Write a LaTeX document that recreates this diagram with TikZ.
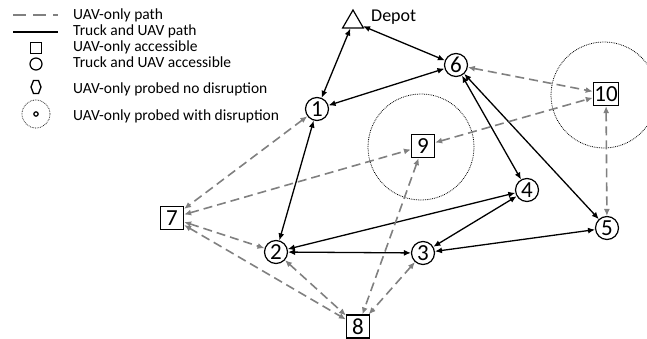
\documentclass[tikz,border=0pt]{standalone}
\usepackage{fontspec}
\setmainfont{Carlito}
\usetikzlibrary{arrows.meta,shapes.geometric}

\begin{document}
\begin{tikzpicture}[x=1pt,y=-1pt,
    stop/.style={draw,circle,minimum size=23pt,inner sep=0pt,line width=1.2pt,font=\fontsize{23}{23}\selectfont},
    drone/.style={draw,rectangle,minimum size=23pt,inner sep=1pt,line width=1.2pt,font=\fontsize{23}{23}\selectfont},
    truck/.style={{Latex[length=7pt,width=6pt]}-{Latex[length=7pt,width=6pt]},line width=1.3pt},
    uav/.style={{Latex[length=7pt,width=6pt]}-{Latex[length=7pt,width=6pt]},gray,line width=1.6pt,dash pattern=on 9pt off 5pt},
    zone/.style={draw,circle,densely dotted,line width=0.8pt,minimum size=106pt},
    legtext/.style={anchor=west,font=\fontsize{15.5}{16}\selectfont,inner sep=0pt}]
    \useasboundingbox (0,0) rectangle (647,339);

    % legend
    \draw[gray,line width=1.6pt,dash pattern=on 13pt off 7pt] (13,15) -- (58,15);
    \draw[line width=1.4pt] (13,32) -- (58,32);
    \draw[line width=1.2pt] (30.5,42.5) rectangle (41.5,53.5);
    \draw[line width=1.2pt] (36,64) circle (6);
    \draw[line width=1.3pt] (31,87) -- (33.5,80.5) -- (38.5,80.5) -- (41,87) -- (38.5,93.5) -- (33.5,93.5) -- cycle;
    \draw[densely dotted,line width=0.7pt] (36,114) circle (14);
    \draw[line width=1.2pt] (36,114) circle (2.2);
    \node[legtext] (l1) at (73,15) {UAV-only path};
    \node[legtext] (l2) at (73,31) {Truck and UAV path};
    \node[legtext] (l3) at (73,47) {UAV-only accessible};
    \node[legtext] (l4) at (73,62) {Truck and UAV accessible};
    \node[legtext] (l5) at (73,89) {UAV-only probed no disruption};
    \node[legtext] (l6) at (73,116) {UAV-only probed with disruption};

    % disruption zones
    \node[zone] (z9) at (421,147) {};
    \node[zone] (z10) at (604,95) {};

    % customers and depot
    \node[draw,regular polygon,regular polygon sides=3,minimum size=24pt,inner sep=0pt,line width=1.2pt] (depot) at (353,22) {};
    \node[anchor=west,font=\fontsize{18}{18}\selectfont,inner sep=0pt] (depotlabel) at (371,17) {Depot};
    \node[stop] (n1) at (317,109) {1};
    \node[stop] (n2) at (276,252) {2};
    \node[stop] (n3) at (423,253) {3};
    \node[stop] (n4) at (527,190) {4};
    \node[stop] (n5) at (607,228) {5};
    \node[stop] (n6) at (456,65) {6};
    \node[drone] (n7) at (172,218) {7};
    \node[drone] (n8) at (358,326.5) {8};
    \node[drone] (n9) at (423,146) {9};
    \node[drone] (n10) at (606,94) {10};

    % truck and UAV arcs
    \draw[truck] (depot) -- (n1);
    \draw[truck] (depot) -- (n6);
    \draw[truck] (n1) -- (n6);
    \draw[truck] (n1) -- (n2);
    \draw[truck] (n2) -- (n4);
    \draw[truck] (n2) -- (n3);
    \draw[truck] (n3) -- (n4);
    \draw[truck] (n3) -- (n5);
    \draw[truck] (n6) -- (n4);
    \draw[truck] (n6) -- (n5);

    % UAV-only arcs
    \draw[uav] (n6) -- (n10);
    \draw[uav] (n9) -- (n10);
    \draw[uav] (n10) -- (n5);
    \draw[uav] (n1) -- (n7);
    \draw[uav] (n7) -- (n9);
    \draw[uav] (n7) -- (n2);
    \draw[uav] (n7) -- (n8);
    \draw[uav] (n2) -- (n8);
    \draw[uav] (n9) -- (n8);
    \draw[uav] (n3) -- (n8);
\end{tikzpicture}
\end{document}
